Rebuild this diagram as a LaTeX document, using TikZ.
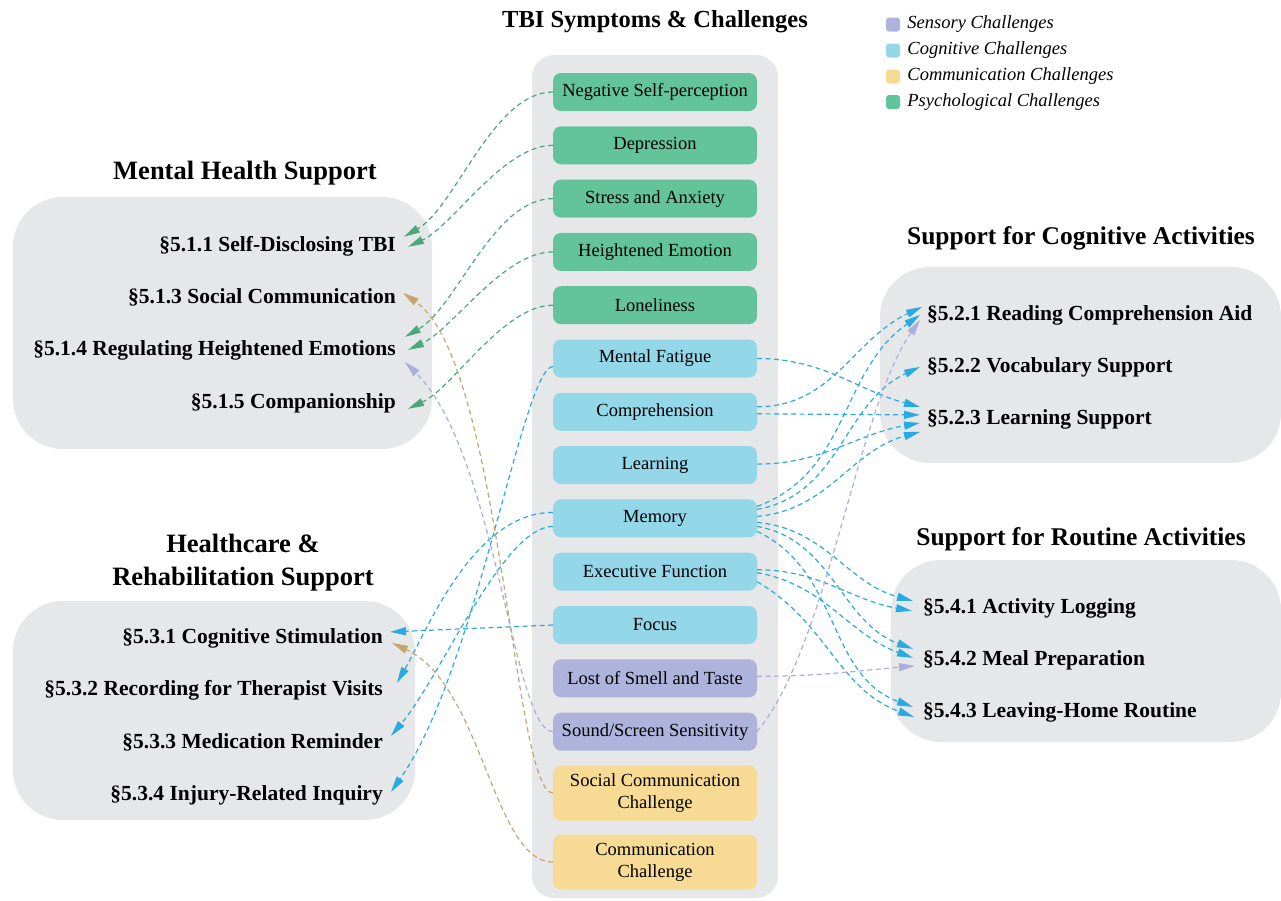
\documentclass[tikz,border=0pt]{standalone}
\usepackage{fontspec}
\setmainfont{Liberation Serif}
\usetikzlibrary{arrows.meta}
\usetikzlibrary{positioning}
\usetikzlibrary{calc}

\definecolor{panelgray}{HTML}{E6E7E8}
\definecolor{psyfill}{HTML}{63C39A}
\definecolor{cogfill}{HTML}{93D7E8}
\definecolor{senfill}{HTML}{ADB3DB}
\definecolor{comfill}{HTML}{F7DB94}
\definecolor{psyline}{HTML}{4DA77D}
\definecolor{cogline}{HTML}{29ABE2}
\definecolor{senline}{HTML}{A8AEDD}
\definecolor{comline}{HTML}{C4A66C}

\newcommand{\symptomfont}{\fontsize{18.5}{22}\selectfont}
\newcommand{\secitemfont}{\fontsize{21.5}{25}\selectfont\bfseries}
\newcommand{\paneltitlefont}{\fontsize{26.5}{33}\selectfont\bfseries}
\newcommand{\legendfont}{\fontsize{18.5}{22}\selectfont\itshape}

\begin{document}
\begin{tikzpicture}[x=1pt, y=1pt,
panel/.style={fill=panelgray, rounded corners=50pt},
symptom/.style={rounded corners=8pt, minimum width=204pt, minimum height=38pt, inner sep=2pt, outer sep=0pt, align=center, font=\symptomfont},
psybox/.style={symptom, fill=psyfill},
cogbox/.style={symptom, fill=cogfill},
senbox/.style={symptom, fill=senfill},
combox/.style={symptom, fill=comfill, minimum height=55pt},
secitem/.style={inner sep=0pt, font=\secitemfont},
paneltitle/.style={inner sep=0pt, font=\paneltitlefont, align=center},
legendkey/.style={rounded corners=3pt, minimum size=14pt, inner sep=0pt},
legendtext/.style={inner sep=0pt, font=\legendfont},
link/.style={line width=1.2pt, dash pattern=on 5pt off 3.5pt, -{Triangle[length=16pt,width=8pt]}},
psylink/.style={link, draw=psyline, psyline},
coglink/.style={link, draw=cogline, cogline},
senlink/.style={link, draw=senline, senline},
comlink/.style={link, draw=comline, comline}
]
\useasboundingbox (0,0) rectangle (1281,-900);

% panels
\fill[panelgray, rounded corners=22pt] (532,-55) rectangle (778,-898);
\fill[panel] (13,-197) rectangle (432,-449);
\fill[panel] (13,-601) rectangle (415,-820);
\fill[panel] (880,-267) rectangle (1281,-463);
\fill[panel] (891,-560) rectangle (1281,-742);

% titles
\node[paneltitle, font=\fontsize{24.5}{30}\selectfont\bfseries, anchor=base] (symtitle) at (655,-27) {TBI Symptoms \& Challenges};
\node[paneltitle, anchor=base] (mhtitle) at (245,-179) {Mental Health Support};
\node[paneltitle] (hrtitle) at (243,-562.4) {Healthcare \&\\Rehabilitation Support};
\node[paneltitle, font=\fontsize{25.5}{33}\selectfont\bfseries, anchor=base] (cogtitle) at (1081,-244) {Support for Cognitive Activities};
\node[paneltitle, font=\fontsize{25.5}{33}\selectfont\bfseries, anchor=base] (routitle) at (1081,-545) {Support for Routine Activities};

% legend
\node[legendkey, fill=senfill] (keysen) at (893,-24.5) {};
\node[legendkey, fill=cogfill] (keycog) at (893,-50.5) {};
\node[legendkey, fill=comfill] (keycom) at (893,-76.5) {};
\node[legendkey, fill=psyfill] (keypsy) at (893,-102) {};
\node[legendtext, right=7pt of keysen] {Sensory Challenges};
\node[legendtext, right=7pt of keycog] {Cognitive Challenges};
\node[legendtext, right=7pt of keycom] {Communication Challenges};
\node[legendtext, right=7pt of keypsy] {Psychological Challenges};

% symptoms
\node[psybox] (negself) at (655,-92) {Negative Self-perception};
\node[psybox, below=15.3pt of negself] (depress) {Depression};
\node[psybox, below=15.3pt of depress] (stress) {Stress and Anxiety};
\node[psybox, below=15.3pt of stress] (heighten) {Heightened Emotion};
\node[psybox, below=15.3pt of heighten] (lonely) {Loneliness};
\node[cogbox, below=15.3pt of lonely] (fatigue) {Mental Fatigue};
\node[cogbox, below=15.3pt of fatigue] (compre) {Comprehension};
\node[cogbox, below=15.3pt of compre] (learn) {Learning};
\node[cogbox, below=15.3pt of learn] (memory) {Memory};
\node[cogbox, below=15.3pt of memory] (execfn) {Executive Function};
\node[cogbox, below=15.3pt of execfn] (focus) {Focus};
\node[senbox, below=15.3pt of focus] (smell) {Lost of Smell and Taste};
\node[senbox, below=15.3pt of smell] (sound) {Sound/Screen Sensitivity};
\node[combox, below=15pt of sound] (socialcomm) {Social Communication\\Challenge};
\node[combox, below=14pt of socialcomm] (comm) {Communication\\Challenge};

% support items
\node[secitem, anchor=base east] (selfdis) at (396,-251) {§5.1.1 Self-Disclosing TBI};
\node[secitem, anchor=base east] (socomm) at (396,-303) {§5.1.3 Social Communication};
\node[secitem, anchor=base east] (regemo) at (396,-355) {§5.1.4 Regulating Heightened Emotions};
\node[secitem, anchor=base east] (compan) at (396,-408) {§5.1.5 Companionship};

\node[secitem, anchor=base east] (cogstim) at (383,-643) {§5.3.1 Cognitive Stimulation};
\node[secitem, anchor=base east] (record) at (383,-695) {§5.3.2 Recording for Therapist Visits};
\node[secitem, anchor=base east] (medrem) at (383,-748) {§5.3.3 Medication Reminder};
\node[secitem, anchor=base east] (injury) at (383,-800) {§5.3.4 Injury-Related Inquiry};

\node[secitem, anchor=base west] (reading) at (927,-320) {§5.2.1 Reading Comprehension Aid};
\node[secitem, anchor=base west] (vocab) at (927,-372) {§5.2.2 Vocabulary Support};
\node[secitem, anchor=base west] (learnsup) at (927,-424) {§5.2.3 Learning Support};

\node[secitem, anchor=base west] (actlog) at (923,-613) {§5.4.1 Activity Logging};
\node[secitem, anchor=base west] (meal) at (923,-665) {§5.4.2 Meal Preparation};
\node[secitem, anchor=base west] (leaving) at (923,-717) {§5.4.3 Leaving-Home Routine};

% links to the left
\draw[psylink] (negself.west) to[out=180, in=30, out distance=60pt, in distance=60pt] ($(selfdis.east)+(8,9)$);
\draw[psylink] (depress.west) to[out=180, in=25, out distance=50pt, in distance=50pt] ($(selfdis.east)+(12,-1)$);
\draw[psylink] (stress.west) to[out=180, in=30, out distance=60pt, in distance=60pt] ($(regemo.east)+(9,13)$);
\draw[psylink] (heighten.west) to[out=180, in=25, out distance=50pt, in distance=50pt] ($(regemo.east)+(12,0)$);
\draw[psylink] (lonely.west) to[out=180, in=25, out distance=50pt, in distance=50pt] ($(compan.east)+(12,-6)$);

\draw[coglink] ($(fatigue.west)+(0,-8)$) to[out=180, in=55, out distance=30pt, in distance=150pt] ($(injury.east)+(8,3)$);
\draw[coglink] ($(memory.west)+(0,6)$) to[out=180, in=60, out distance=80pt, in distance=60pt] ($(record.east)+(14,7)$);
\draw[coglink] ($(memory.west)+(0,-8)$) to[out=180, in=50, out distance=50pt, in distance=80pt] ($(medrem.east)+(8,6)$);
\draw[coglink] (focus.west) -- ($(cogstim.east)+(7,6)$);

\draw[senlink] (sound.west) to[out=180, in=-45, out distance=40pt, in distance=130pt] ($(regemo.east)+(9,-12)$);
\draw[comlink] (socialcomm.west) to[out=180, in=-35, out distance=40pt, in distance=120pt] ($(socomm.east)+(7,4)$);
\draw[comlink] (comm.west) to[out=180, in=-25, out distance=60pt, in distance=100pt] ($(cogstim.east)+(9,-5)$);

% links to the right
\draw[coglink] (fatigue.east) to[out=0, in=165] ($(learnsup.west)+(-7,12)$);
\draw[coglink] ($(compre.east)+(0,5)$) to[out=0, in=205] ($(reading.west)+(-5,8)$);
\draw[coglink] ($(compre.east)+(0,-2)$) -- ($(learnsup.west)+(-7,4)$);
\draw[coglink] ($(learn.east)+(0,1)$) to[out=0, in=190] ($(learnsup.west)+(-7,-4)$);

\draw[coglink] ($(memory.east)+(0,12)$) to[out=20, in=215] ($(reading.west)+(-7,0)$);
\draw[coglink] ($(memory.east)+(0,9)$) to[out=10, in=205] ($(vocab.west)+(-7,0)$);
\draw[coglink] ($(memory.east)+(0,2)$) to[out=5, in=195] ($(learnsup.west)+(-7,-13)$);
\draw[coglink] ($(memory.east)+(0,-4)$) to[out=-5, in=165] ($(actlog.west)+(-10,7)$);
\draw[coglink] ($(memory.east)+(0,-8)$) to[out=-10, in=160] ($(meal.west)+(-10,11)$);
\draw[coglink] ($(memory.east)+(0,-13)$) to[out=-25, in=160] ($(leaving.west)+(-10,5)$);

\draw[coglink] ($(execfn.east)+(0,2)$) to[out=0, in=170] ($(actlog.west)+(-11,-3)$);
\draw[coglink] ($(execfn.east)+(0,-1)$) to[out=-10, in=160] ($(meal.west)+(-10,2)$);
\draw[coglink] ($(execfn.east)+(0,-10)$) to[out=-30, in=160] ($(leaving.west)+(-9,-5)$);

\draw[senlink] ($(smell.east)+(0,2)$) to[out=0, in=185] ($(meal.west)+(-8,-6)$);
\draw[senlink] (sound.east) to[out=50, in=235, out distance=110pt, in distance=110pt] ($(reading.west)+(-7,-5)$);
\end{tikzpicture}
\end{document}
